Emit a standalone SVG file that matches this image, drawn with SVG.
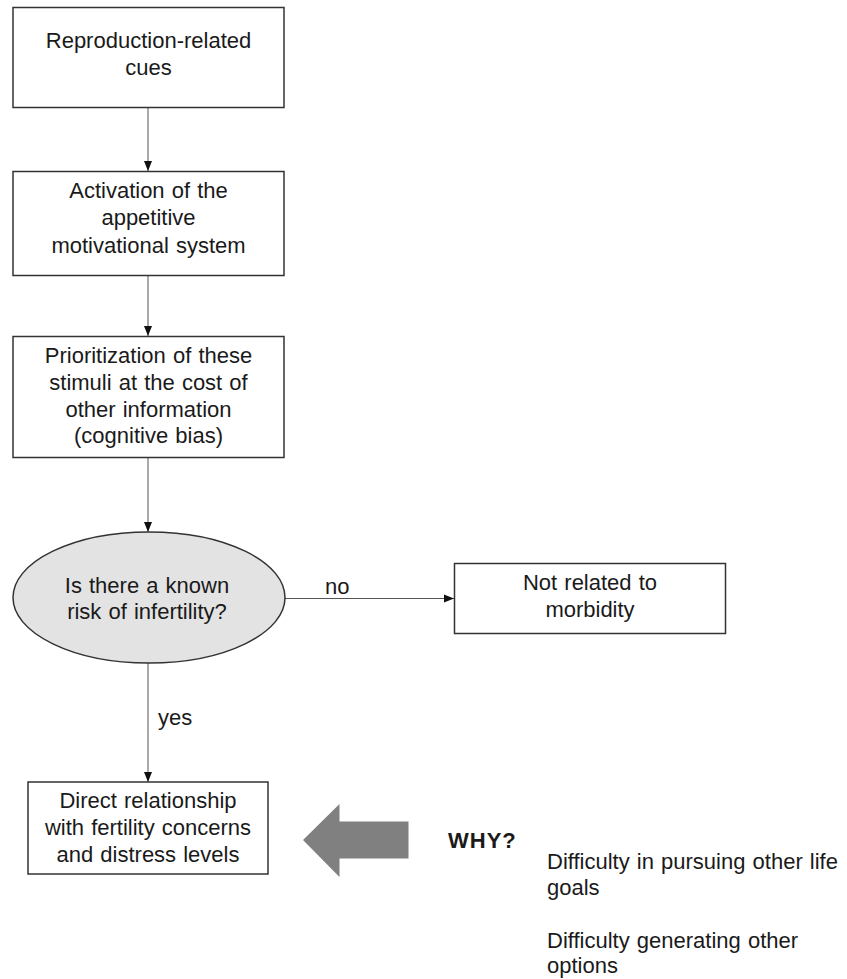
<svg xmlns="http://www.w3.org/2000/svg" width="847" height="979" viewBox="0 0 847 979">
<defs>
<style>
.box{fill:#fff;stroke:#333;stroke-width:1.5}
.ell{fill:#e3e3e3;stroke:#333;stroke-width:1.5}
.t{font-family:"Liberation Sans",Arial,sans-serif;font-size:22px;fill:#1a1a1a;text-anchor:middle;word-spacing:1px}
.l{font-family:"Liberation Sans",Arial,sans-serif;font-size:22px;fill:#1a1a1a;word-spacing:1px}
.c{stroke:#555;stroke-width:1;fill:none;marker-end:url(#ah)}
</style>
<marker id="ah" markerWidth="10" markerHeight="10" refX="10" refY="5" orient="auto" markerUnits="userSpaceOnUse">
<path d="M0,1 L10,5 L0,9 Z" fill="#111"/>
</marker>
</defs>
<rect width="847" height="979" fill="#fff"/>
<g id="connectors">
<line class="c" x1="148" y1="108" x2="148" y2="171"/>
<line class="c" x1="148" y1="276" x2="148" y2="336"/>
<line class="c" x1="148" y1="458" x2="148" y2="532"/>
<line class="c" x1="285" y1="598.5" x2="454" y2="598.5"/>
<line class="c" x1="148" y1="663" x2="148" y2="782"/>
<text class="l" x="325" y="594">no</text>
<text class="l" x="158" y="725">yes</text>
</g>
<g id="n1">
<rect class="box" x="13" y="7.5" width="271" height="100"/>
<text class="t" x="148.5" y="48">Reproduction-related</text>
<text class="t" x="148.5" y="75">cues</text>
</g>
<g id="n2">
<rect class="box" x="13" y="171.5" width="271" height="104"/>
<text class="t" x="148.5" y="198">Activation of the</text>
<text class="t" x="148.5" y="225">appetitive</text>
<text class="t" x="148.5" y="253">motivational system</text>
</g>
<g id="n3">
<rect class="box" x="13" y="336.5" width="271" height="121"/>
<text class="t" x="148.5" y="363">Prioritization of these</text>
<text class="t" x="148.5" y="390">stimuli at the cost of</text>
<text class="t" x="148.5" y="417">other information</text>
<text class="t" x="148.5" y="443">(cognitive bias)</text>
</g>
<g id="n4">
<ellipse class="ell" cx="149" cy="597.5" rx="136" ry="65.5"/>
<text class="t" x="147" y="593">Is there a known</text>
<text class="t" x="147" y="619">risk of infertility?</text>
</g>
<g id="n5">
<rect class="box" x="454.5" y="563.5" width="271" height="70"/>
<text class="t" x="590" y="590">Not related to</text>
<text class="t" x="590" y="617">morbidity</text>
</g>
<g id="n6">
<rect class="box" x="28" y="782" width="240" height="92"/>
<text class="t" x="148" y="808">Direct relationship</text>
<text class="t" x="148" y="835">with fertility concerns</text>
<text class="t" x="148" y="862">and distress levels</text>
</g>
<g id="why">
<path d="M303,840 L339.5,804 L339.5,821.5 L408.5,821.5 L408.5,858.5 L339.5,858.5 L339.5,877 Z" fill="#808080"/>
<text class="l" x="448" y="848" font-weight="bold" font-size="25" letter-spacing="1" fill="#000">WHY?</text>
<text class="l" x="547" y="869">Difficulty in pursuing other life</text>
<text class="l" x="547" y="895">goals</text>
<text class="l" x="547" y="948">Difficulty generating other</text>
<text class="l" x="547" y="973">options</text>
</g>
</svg>
